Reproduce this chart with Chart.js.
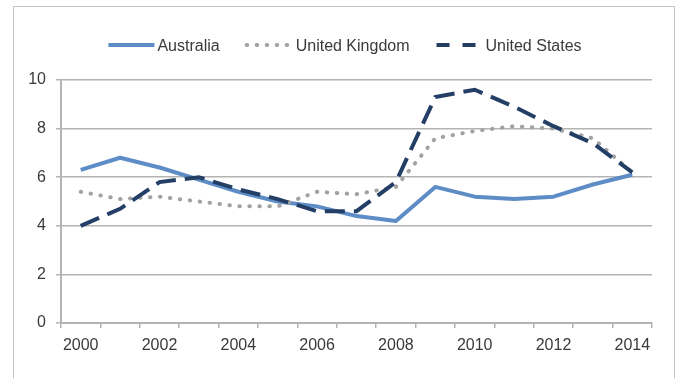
<!DOCTYPE html>
<html>
<head>
<meta charset="utf-8">
<title>Unemployment rate, 2000–2014</title>
<script src="https://cdn.jsdelivr.net/npm/chart.js@4.4.1/dist/chart.umd.min.js"></script>
<style>
  html, body { margin: 0; padding: 0; background: #fff; overflow: hidden; }
  #wrap { position: relative; width: 679px; height: 378px; }
  #frame { position: absolute; left: 13px; top: 6px; width: 662px; height: 420px;
           border: 1px solid #c3c3c3; box-sizing: border-box; }
  #c { position: absolute; left: 0; top: 0; }
</style>
</head>
<body>
<div id="wrap">
  <div id="frame"></div>
  <canvas id="c" width="679" height="378"></canvas>
</div>
<script>
// Annual unemployment rate (%)
const years = ['2000','2001','2002','2003','2004','2005','2006','2007',
               '2008','2009','2010','2011','2012','2013','2014'];
const australia     = [6.3, 6.8, 6.4, 5.9, 5.4, 5.0, 4.8, 4.4, 4.2, 5.6, 5.2, 5.1, 5.2, 5.7, 6.1];
const unitedKingdom = [5.4, 5.1, 5.2, 5.0, 4.8, 4.8, 5.4, 5.3, 5.6, 7.6, 7.9, 8.1, 8.0, 7.6, 6.2];
const unitedStates  = [4.0, 4.7, 5.8, 6.0, 5.5, 5.1, 4.6, 4.6, 5.8, 9.3, 9.6, 8.9, 8.1, 7.4, 6.2];
// Only every other year is labelled on the axis
const shownYears = ['2000','2002','2004','2006','2008','2010','2012','2014'];

const FONT = '"Liberation Sans", Arial, Helvetica, sans-serif';
const TEXT = '#3a3a3a';
const GRID = '#b4b4b4';

// Legend drawn as short line samples followed by the series name
const lineLegend = {
  id: 'lineLegend',
  afterDraw(chart, args, opts) {
    const ctx = chart.ctx;
    ctx.save();
    ctx.font = '16px ' + FONT;
    const items = chart.data.datasets.map(ds => ({ ds, w: ctx.measureText(ds.label).width }));
    const total = items.reduce((s, it) => s + opts.sample + opts.gap + it.w, 0)
                + opts.spacing * (items.length - 1);
    let x = opts.centerX - total / 2;
    items.forEach(it => {
      const ds = it.ds;
      ctx.beginPath();
      ctx.strokeStyle = ds.borderColor;
      ctx.lineWidth = ds.borderWidth;
      ctx.lineCap = ds.borderCapStyle || 'butt';
      ctx.setLineDash(ds.legendDash || ds.borderDash || []);
      ctx.moveTo(x, opts.y);
      ctx.lineTo(x + opts.sample, opts.y);
      ctx.stroke();
      ctx.setLineDash([]);
      ctx.fillStyle = TEXT;
      ctx.textAlign = 'left';
      ctx.textBaseline = 'middle';
      ctx.fillText(ds.label, x + opts.sample + opts.gap, opts.y + 2);
      x += opts.sample + opts.gap + it.w + opts.spacing;
    });
    ctx.restore();
  }
};

new Chart(document.getElementById('c'), {
  type: 'line',
  data: {
    labels: years,
    datasets: [
      {
        label: 'Australia',
        data: australia,
        borderColor: '#5e8cc6',
        borderWidth: 4,
        borderJoinStyle: 'round',
        order: 2
      },
      {
        label: 'United Kingdom',
        data: unitedKingdom,
        borderColor: '#a2a2a2',
        borderWidth: 4,
        borderDash: [0.5, 9.5],
        borderCapStyle: 'round',
        order: 1
      },
      {
        label: 'United States',
        data: unitedStates,
        borderColor: '#243f66',
        borderWidth: 4,
        borderDash: [20, 9],
        legendDash: [13, 13],
        order: 0
      }
    ]
  },
  options: {
    responsive: false,
    animation: false,
    devicePixelRatio: 1,
    layout: { padding: { top: 80, right: 27, bottom: 15, left: 0 } },
    elements: {
      point: { radius: 0, hoverRadius: 0 },
      line: { tension: 0, fill: false }
    },
    plugins: {
      legend: { display: false },
      tooltip: { enabled: false },
      lineLegend: { centerX: 345, y: 45, sample: 46, gap: 3, spacing: 27 }
    },
    scales: {
      x: {
        type: 'category',
        offset: true,
        grid: {
          offset: true,
          drawOnChartArea: false,
          drawTicks: true,
          tickLength: 5,
          color: GRID,
          lineWidth: 1.5
        },
        border: { color: GRID, width: 2 },
        ticks: {
          autoSkip: false,
          maxRotation: 0,
          padding: 8,
          color: TEXT,
          font: { family: FONT, size: 16 },
          callback: (v, i) => shownYears.includes(years[i]) ? years[i] : ''
        },
        afterFit: s => { s.height = 40; }
      },
      y: {
        min: 0,
        max: 10,
        ticks: {
          stepSize: 2,
          padding: 10,
          color: TEXT,
          font: { family: FONT, size: 16 }
        },
        grid: { color: GRID, lineWidth: 1.5, drawTicks: true, tickLength: 5 },
        border: { color: GRID, width: 2 },
        afterFit: s => { s.width = 61; }
      }
    }
  },
  plugins: [lineLegend]
});
</script>
</body>
</html>
